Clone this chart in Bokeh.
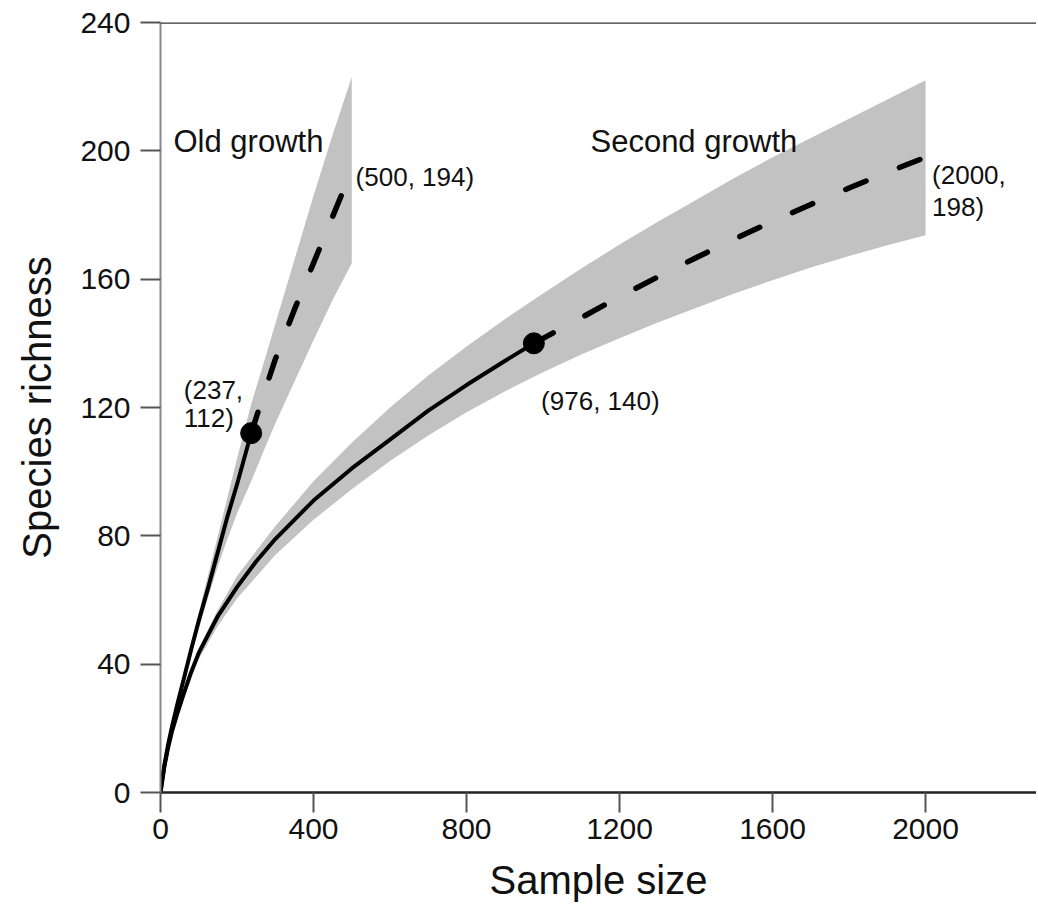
from bokeh.plotting import figure
from bokeh.models import Range1d, FixedTicker, Span, ColumnDataSource
from bokeh.core.properties import value
from bokeh.embed import file_html
from bokeh.resources import INLINE

# ---------------- data ----------------
# Old growth: observed rarefaction (solid) and extrapolation (dashed)
og_obs_x = [0, 10, 20, 30, 45, 60, 80, 100, 125, 150, 175, 200, 237]
og_obs_y = [0, 8.5, 15, 20.5, 28, 35, 44.5, 53.5, 64, 75, 86, 96, 112]
og_ext_x = [237, 275, 300, 350, 400, 450, 500]
og_ext_y = [112, 126, 135, 150.5, 165, 179.5, 194]
og_band_x = [0, 25, 50, 75, 100, 125, 150, 175, 200, 237, 275, 300, 350, 400, 450, 500]
og_band_lo = [0, 17, 30, 41, 51, 61, 70.5, 79, 87, 97, 108, 115, 128, 141, 153.5, 165]
og_band_hi = [0, 19, 32, 44, 56, 68, 80, 92, 104, 121, 136, 146, 166, 186, 205, 223]

# Second growth
sg_obs_x = [0, 10, 20, 30, 45, 60, 80, 100, 150, 200, 250, 300, 400, 500, 600, 700, 800, 900, 976]
sg_obs_y = [0, 8, 14, 19, 25, 30.5, 37.5, 43.5, 55, 64, 72, 79, 91, 101, 110, 119, 127, 134.5, 140]
sg_ext_x = [976, 1100, 1200, 1300, 1400, 1500, 1600, 1700, 1800, 1900, 2000]
sg_ext_y = [140, 148, 154.5, 160.7, 166.7, 172.5, 178, 183.3, 188.4, 193.3, 198]
sg_band_x = [0, 25, 50, 100, 150, 200, 300, 400, 500, 600, 700, 800, 900, 1000,
             1100, 1200, 1300, 1400, 1500, 1600, 1700, 1800, 1900, 2000]
sg_band_lo = [0, 15.5, 26, 41.5, 52, 60.5, 74, 85, 94.5, 103.3, 111.3, 118.5, 125, 131,
              136.5, 141.6, 146.5, 151, 155.5, 159.7, 163.6, 167.2, 170.6, 173.7]
sg_band_hi = [0, 16.5, 28, 45, 57, 67.5, 83, 97, 109, 120, 130, 139, 147.5, 155.5,
              163.3, 170.8, 177.9, 184.7, 191.5, 198, 204, 210, 216, 222]

# observed sample points
pt_x = [237, 976]
pt_y = [112, 140]

x_ticks = [0, 400, 800, 1200, 1600, 2000]
y_ticks = [0, 40, 80, 120, 160, 200, 240]

# annotations: (x, y, text, font size)
labels = [
    (34, 203, "Old growth", "31px"),
    (1124, 203, "Second growth", "31px"),
    (510, 192, "(500, 194)", "26px"),
    (2017, 192.5, "(2000,", "26px"),
    (2017, 182.6, "198)", "26px"),
    (61, 125.4, "(237,", "26px"),
    (61, 116.6, "112)", "26px"),
    (995, 122, "(976, 140)", "26px"),
]

FONT = "Liberation Sans"
BAND = "#c2c2c2"

p = figure(width=1036, height=913,
           x_range=Range1d(0, 2290), y_range=Range1d(0, 240),
           output_backend="svg", toolbar_location=None,
           min_border_left=160, min_border_right=0,
           min_border_top=22, min_border_bottom=121)

p.grid.visible = False
p.outline_line_color = None
p.background_fill_color = "white"
p.border_fill_color = "white"

# bands
p.varea(x=og_band_x, y1=og_band_lo, y2=og_band_hi, fill_color=BAND, fill_alpha=1.0)
p.varea(x=sg_band_x, y1=sg_band_lo, y2=sg_band_hi, fill_color=BAND, fill_alpha=1.0)

# lines
for xs, ys in [(og_obs_x, og_obs_y), (sg_obs_x, sg_obs_y)]:
    p.line(xs, ys, line_color="black", line_width=4, line_join="round", line_cap="round")
for xs, ys in [(og_ext_x, og_ext_y), (sg_ext_x, sg_ext_y)]:
    p.line(xs, ys, line_color="black", line_width=5.5, line_dash="22 36",
           line_cap="round", line_join="round")

p.scatter(pt_x, pt_y, size=21, marker="circle", fill_color="black", line_color="black")

# texts
src = ColumnDataSource(dict(
    x=[l[0] for l in labels], y=[l[1] for l in labels],
    text=[l[2] for l in labels], size=[l[3] for l in labels]))
p.text(x="x", y="y", text="text", source=src, text_font=value(FONT),
       text_font_size="size", text_color="#111111",
       text_align="left", text_baseline="alphabetic")

# top border line
p.add_layout(Span(location=240, dimension="width", line_color="#333333", line_width=2.5))

# axes
for ax in (p.xaxis[0], p.yaxis[0]):
    ax.major_label_text_font = FONT
    ax.major_label_text_font_size = "30px"
    ax.major_label_text_color = "#111111"
    ax.axis_label_text_font = FONT
    ax.axis_label_text_font_size = "40px"
    ax.axis_label_text_font_style = "normal"
    ax.axis_label_text_color = "#111111"
    ax.major_tick_out = 20
    ax.major_tick_in = 0
    ax.minor_tick_out = 0
    ax.minor_tick_in = 0
    ax.major_tick_line_color = "#555555"
    ax.major_tick_line_width = 2

p.xaxis[0].ticker = FixedTicker(ticks=x_ticks)
p.yaxis[0].ticker = FixedTicker(ticks=y_ticks)
p.xaxis[0].axis_label = "Sample size"
p.yaxis[0].axis_label = "Species richness"
p.xaxis[0].axis_line_color = "#222222"
p.xaxis[0].axis_line_width = 2.5
p.yaxis[0].axis_line_color = "#888888"
p.yaxis[0].axis_line_width = 2
p.xaxis[0].major_label_standoff = 6
p.xaxis[0].axis_label_standoff = 16
p.yaxis[0].major_label_standoff = 10
p.yaxis[0].axis_label_standoff = 18

open("out.html", "w").write(file_html(p, INLINE))
